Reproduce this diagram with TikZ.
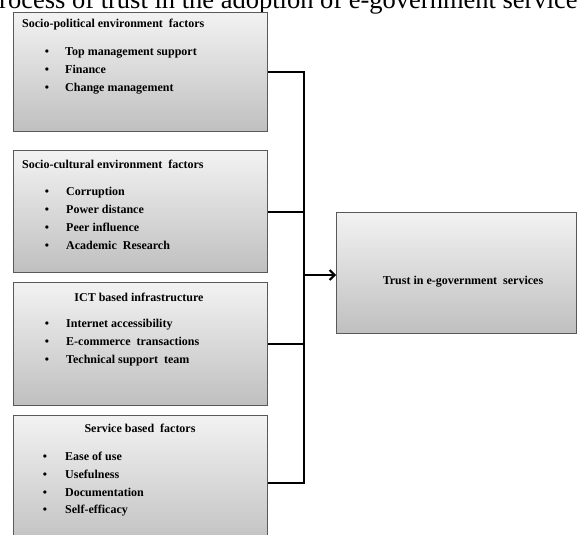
\documentclass[tikz,border=0pt]{standalone}
\usepackage{fontspec}
\setmainfont{Liberation Serif}
\usetikzlibrary{arrows.meta}
\tikzset{
  factorbox/.style={draw=black!65, line width=1.2pt, top color=black!5, bottom color=black!25, minimum width=254pt, anchor=north west, inner sep=0pt},
  conn/.style={draw=black, line width=2pt},
  ttl/.style={font=\fontsize{12}{14}\selectfont\bfseries, inner sep=0pt},
  itm/.style={font=\fontsize{12}{14}\selectfont\bfseries, anchor=base west, inner sep=0pt},
  bul/.style={font=\fontsize{12}{14}\selectfont\bfseries, anchor=base, inner sep=0pt}
}
\begin{document}
\begin{tikzpicture}[x=1pt,y=-1pt]
\useasboundingbox (0,0) rectangle (578,535);
\clip (0,0) rectangle (578,535);
\fill[white] (0,0) rectangle (578,535);
% caption (cut off at top)
\node[anchor=base west, inner sep=0pt, font=\fontsize{26.5}{30}\selectfont] (cap) at (-15.7,8.5) {Process of trust in the adoption of e-government services};
% boxes
\node[factorbox, minimum height=119pt] (b1) at (13,12) {};
\node[factorbox, minimum height=122pt] (b2) at (13,150) {};
\node[factorbox, minimum height=123pt] (b3) at (13,282) {};
\node[factorbox, minimum height=134pt] (b4) at (13,415) {};
\node[draw=black!65, line width=1.2pt, top color=black!5, bottom color=black!25, anchor=north west, minimum width=240pt, minimum height=121pt, inner sep=0pt] (trust) at (336,212) {};
\node[ttl] (trustt) at (463,282) {Trust in e-government\ \ services};
% box 1
\node[ttl, anchor=west] (t1) at (22,25) {Socio-political environment\ \ factors};
\node[bul] (u11) at (47,56) {•}; \node[itm] (i11) at (65,56) {Top management support};
\node[bul] (u12) at (47,74) {•}; \node[itm] (i12) at (65,74) {Finance};
\node[bul] (u13) at (47,92) {•}; \node[itm] (i13) at (65,92) {Change management};
% box 2
\node[ttl, anchor=west] (t2) at (22,164) {Socio-cultural environment\ \ factors};
\node[bul] (u21) at (47,195) {•}; \node[itm] (i21) at (66,195) {Corruption};
\node[bul] (u22) at (47,213) {•}; \node[itm] (i22) at (66,213) {Power distance};
\node[bul] (u23) at (47,231) {•}; \node[itm] (i23) at (66,231) {Peer influence};
\node[bul] (u24) at (47,249) {•}; \node[itm] (i24) at (66,249) {Academic\ \ Research};
% box 3
\node[ttl] (t3) at (139,297) {ICT based infrastructure};
\node[bul] (u31) at (47,327) {•}; \node[itm] (i31) at (66,327) {Internet accessibility};
\node[bul] (u32) at (47,345) {•}; \node[itm] (i32) at (66,345) {E-commerce\ \ transactions};
\node[bul] (u33) at (47,363) {•}; \node[itm] (i33) at (66,363) {Technical support\ \ team};
% box 4
\node[ttl] (t4) at (140,428) {Service based\ \ factors};
\node[bul] (u41) at (45,460) {•}; \node[itm] (i41) at (65,460) {Ease of use};
\node[bul] (u42) at (45,478) {•}; \node[itm] (i42) at (65,478) {Usefulness};
\node[bul] (u43) at (45,496) {•}; \node[itm] (i43) at (65,496) {Documentation};
\node[bul] (u44) at (45,513) {•}; \node[itm] (i44) at (65,513) {Self-efficacy};
% connectors
\coordinate (busx) at (304,0);
\draw[conn] (b1.east) -- (b1.east -| busx) -- (b4.east -| busx) -- (b4.east);
\draw[conn] (b2.east) -- (b2.east -| busx);
\draw[conn] (b3.east) -- (b3.east -| busx);
\draw[conn, -{Straight Barb[length=5pt,width=10pt]}] (busx |- 0,275) coordinate (arrstart) -- (trust.west |- arrstart);
\end{tikzpicture}
\end{document}
